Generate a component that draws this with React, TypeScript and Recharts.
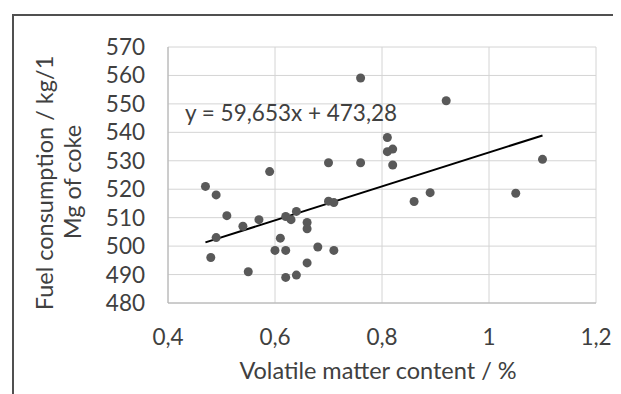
import React from "react";
import {
  ScatterChart,
  Scatter,
  XAxis,
  YAxis,
  CartesianGrid,
  Customized,
} from "recharts";

// volatile matter content (%) vs fuel consumption (kg/1 Mg of coke)
const volatile = [
  0.47, 0.48, 0.49, 0.49, 0.51, 0.54, 0.55, 0.57, 0.59, 0.6, 0.61, 0.62,
  0.62, 0.62, 0.63, 0.64, 0.64, 0.66, 0.66, 0.66, 0.68, 0.7, 0.7, 0.71,
  0.71, 0.76, 0.76, 0.81, 0.81, 0.82, 0.82, 0.86, 0.89, 0.92, 1.05, 1.1,
];
const fuel = [
  521, 496, 518, 503, 510.7, 507, 491, 509.3, 526.2, 498.5, 502.8, 510.4,
  498.5, 489, 509.3, 512.2, 489.8, 508.3, 506.1, 494.1, 499.7, 529.3, 515.8,
  498.5, 515.3, 559.1, 529.3, 538.2, 533.2, 534.1, 528.5, 515.7, 518.8,
  551.1, 518.6, 530.5,
];

// trend line end points, y = 59,653x + 473,28
const trendX = [0.47, 1.1];
const trendY = [501.3, 538.9];

const xTicks = [0.4, 0.6, 0.8, 1, 1.2];
const yTicks = [480, 490, 500, 510, 520, 530, 540, 550, 560, 570];

const equation = "y = 59,653x + 473,28";
const xTitle = "Volatile matter content / %";
const yTitle1 = "Fuel consumption  / kg/1";
const yTitle2 = "Mg of coke";

const points = volatile.map((x, i) => ({ x, y: fuel[i] }));
const trend = trendX.map((x, i) => ({ x, y: trendY[i] }));

const FONT = "Lato, 'Open Sans', sans-serif";
const TEXT = "#404040";

const Dot = (props: any) => (
  <circle cx={props.cx} cy={props.cy} r={4.5} fill="#595959" />
);

const Titles = () => (
  <g fontFamily={FONT} fill={TEXT}>
    <text x={177} y={104} fontSize={22.5} dominantBaseline="central">
      {equation}
    </text>
    <text
      x={370}
      y={362}
      fontSize={23.5}
      textAnchor="middle"
      dominantBaseline="central"
    >
      {xTitle}
    </text>
    <text
      x={36}
      y={175}
      fontSize={23.5}
      textAnchor="middle"
      dominantBaseline="central"
      transform="rotate(-90 36 175)"
    >
      {yTitle1}
    </text>
    <text
      x={64}
      y={174}
      fontSize={23.5}
      textAnchor="middle"
      dominantBaseline="central"
      transform="rotate(-90 64 174)"
    >
      {yTitle2}
    </text>
  </g>
);

export default function App() {
  return (
    <div
      style={{
        position: "relative",
        width: 613,
        height: 386,
        overflow: "hidden",
        background: "#fff",
      }}
    >
      <div
        style={{
          position: "absolute",
          left: 4,
          top: 6,
          width: 700,
          height: 500,
          borderLeft: "2px solid #505050",
          borderTop: "2px solid #505050",
        }}
      />
      <div style={{ position: "absolute", left: 0, top: 0 }}>
        <ScatterChart
          width={613}
          height={386}
          margin={{ top: 39, right: 25, bottom: 31, left: 100 }}
        >
          <CartesianGrid stroke="#d4d4d4" />
          <XAxis
            type="number"
            dataKey="x"
            domain={[0.4, 1.2]}
            ticks={xTicks}
            interval={0}
            tickFormatter={(v: number) => String(v).replace(".", ",")}
            tickLine={false}
            tickSize={0}
            tickMargin={26}
            height={60}
            stroke="#b0b0b0"
            tick={{ fill: TEXT, fontSize: 22.5, fontFamily: FONT }}
            allowDataOverflow
          />
          <YAxis
            type="number"
            dataKey="y"
            domain={[480, 570]}
            ticks={yTicks}
            interval={0}
            tickLine={false}
            tickSize={0}
            tickMargin={23}
            width={60}
            stroke="#b0b0b0"
            tick={{ fill: TEXT, fontSize: 22.5, fontFamily: FONT }}
            allowDataOverflow
          />
          <Scatter
            data={trend}
            line={{ stroke: "#000", strokeWidth: 2 }}
            shape={() => <g />}
            isAnimationActive={false}
          />
          <Scatter data={points} shape={Dot} isAnimationActive={false} />
          <Customized component={Titles} />
        </ScatterChart>
      </div>
    </div>
  );
}
